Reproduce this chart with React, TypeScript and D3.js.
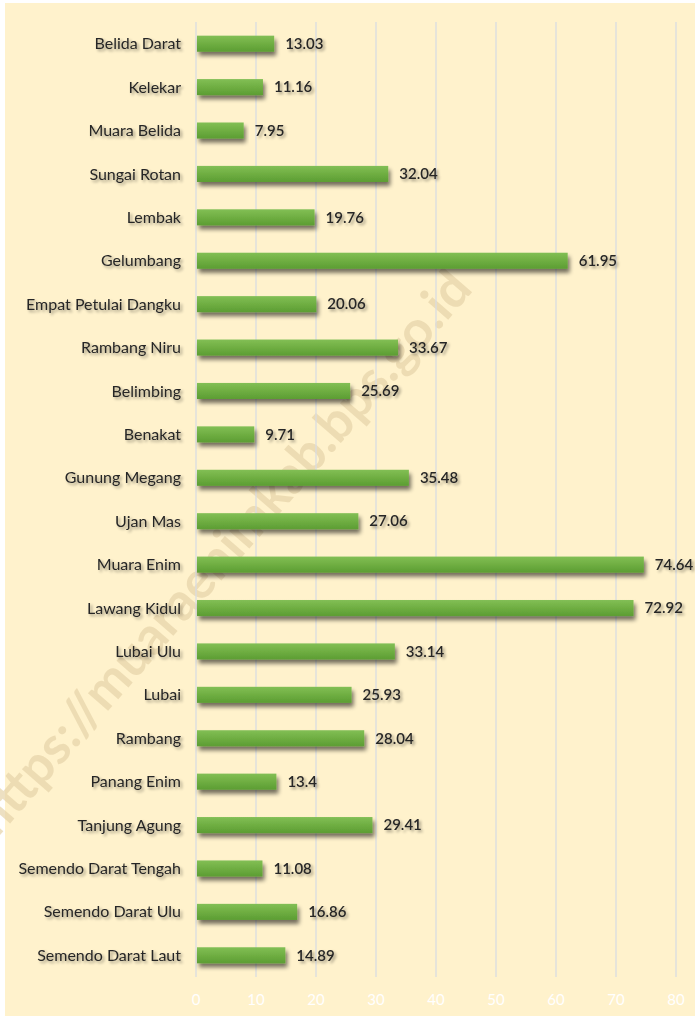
import React from "react";
import * as d3 from "d3";

const categories = [
  "Belida Darat", "Kelekar", "Muara Belida", "Sungai Rotan", "Lembak", "Gelumbang",
  "Empat Petulai Dangku", "Rambang Niru", "Belimbing", "Benakat", "Gunung Megang",
  "Ujan Mas", "Muara Enim", "Lawang Kidul", "Lubai Ulu", "Lubai", "Rambang",
  "Panang Enim", "Tanjung Agung", "Semendo Darat Tengah", "Semendo Darat Ulu",
  "Semendo Darat Laut",
];
const values = [
  13.03, 11.16, 7.95, 32.04, 19.76, 61.95, 20.06, 33.67, 25.69, 9.71, 35.48, 27.06,
  74.64, 72.92, 33.14, 25.93, 28.04, 13.4, 29.41, 11.08, 16.86, 14.89,
];
const ticks = [0, 10, 20, 30, 40, 50, 60, 70, 80];
const watermark = "https://muaraenimkab.bps.go.id";

const W = 695;
const H = 1016;
const FONT = "Lato, 'Open Sans', sans-serif";

export default function App() {
  const x = d3.scaleLinear().domain([0, 80]).range([196, 676]);
  const y = d3.scaleBand<string>().domain(categories).range([22, 977]).paddingInner(0.63).paddingOuter(0.315);
  const bw = y.bandwidth();
  return (
    <div style={{ position: "absolute", left: 0, top: 0, width: W, height: H }}>
      <svg width={W} height={H} style={{ display: "block" }}>
        <defs>
          <linearGradient id="barGrad" x1="0" y1="0" x2="0" y2="1">
            <stop offset="0" stopColor="#82bf55" />
            <stop offset="0.5" stopColor="#6fae42" />
            <stop offset="1" stopColor="#5c9d33" />
          </linearGradient>
          <filter id="barShadow" x="-10%" y="-50%" width="120%" height="220%">
            <feGaussianBlur in="SourceAlpha" stdDeviation="2.2" />
            <feOffset dx="2" dy="4" result="b" />
            <feComponentTransfer><feFuncA type="linear" slope="0.55" /></feComponentTransfer>
            <feMerge><feMergeNode /><feMergeNode in="SourceGraphic" /></feMerge>
          </filter>
          <filter id="textShadow" x="-10%" y="-30%" width="120%" height="180%">
            <feGaussianBlur in="SourceAlpha" stdDeviation="1.4" />
            <feOffset dx="1.5" dy="2" result="b" />
            <feComponentTransfer><feFuncA type="linear" slope="0.4" /></feComponentTransfer>
            <feMerge><feMergeNode /><feMergeNode in="SourceGraphic" /></feMerge>
          </filter>
        </defs>
        <rect x={0} y={0} width={W} height={H} fill="#ffffff" />
        <rect x={5} y={3} width={W - 5} height={H - 3} fill="#fff2cc" />
        <text
          transform="translate(474,290) rotate(-49)"
          textAnchor="end"
          fontFamily={FONT}
          fontSize={52}
          fontWeight={700}
          fill="#e6d3a8"
          fillOpacity={0.7}
        >
          {watermark}
        </text>
        {ticks.map((t) => (
          <line key={"g" + t} x1={x(t)} x2={x(t)} y1={22} y2={977} stroke="#d9dce2" strokeWidth={1.3} />
        ))}
        {ticks.map((t) => (
          <text key={"t" + t} x={x(t)} y={1005} textAnchor="middle" fontFamily={FONT} fontSize={15} fill="#ffffff">
            {t}
          </text>
        ))}
        {categories.map((c, i) => {
          const yy = y(c)!;
          return (
            <g key={c}>
              <rect x={x(0) + 1} y={yy} width={x(values[i]) - x(0) - 1} height={bw} fill="url(#barGrad)" filter="url(#barShadow)" />
              <text x={181} y={yy + bw / 2} dy="0.35em" textAnchor="end" fontFamily={FONT} fontSize={16} fill="#262626" filter="url(#textShadow)">
                {c}
              </text>
              <text x={x(values[i]) + 11} y={yy + bw / 2} dy="0.35em" fontFamily={FONT} fontSize={15} fontWeight={600} fill="#262626" filter="url(#textShadow)">
                {String(values[i])}
              </text>
            </g>
          );
        })}
      </svg>
    </div>
  );
}
